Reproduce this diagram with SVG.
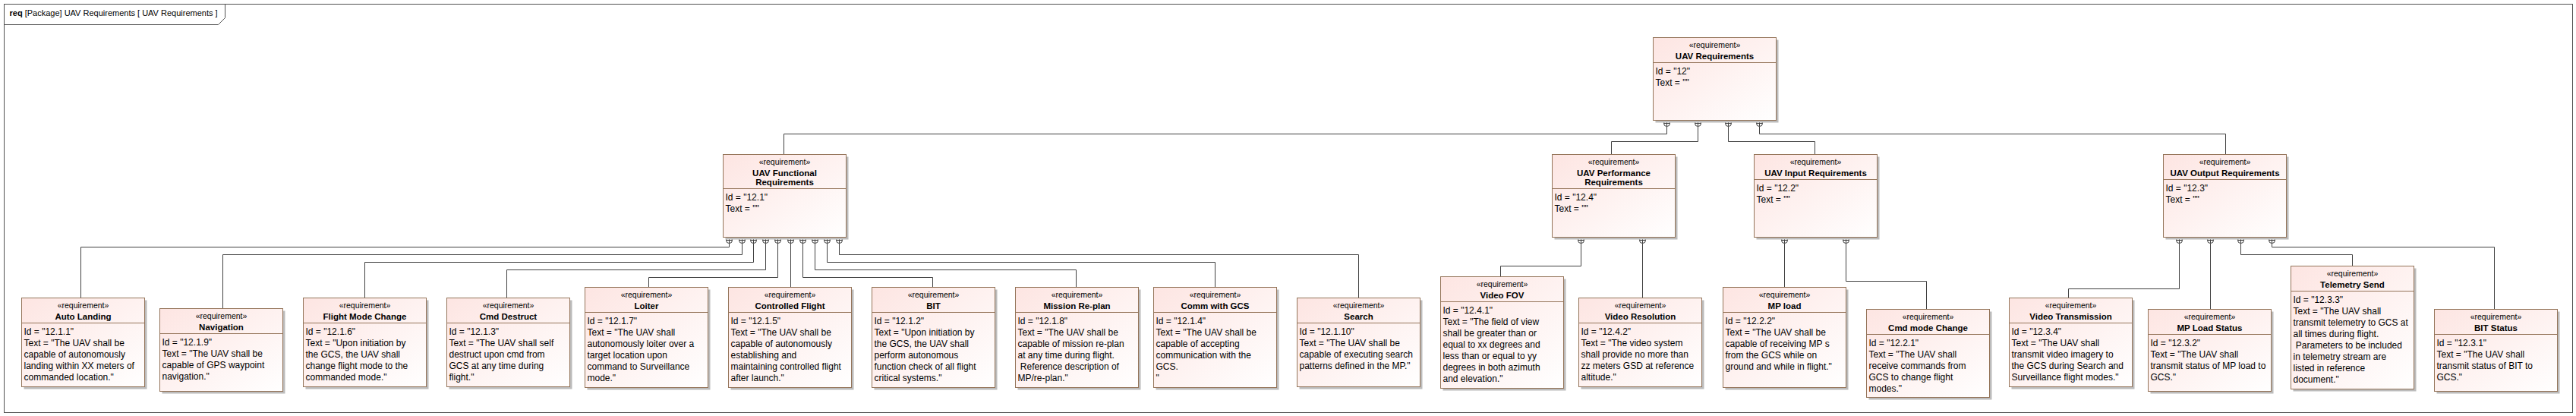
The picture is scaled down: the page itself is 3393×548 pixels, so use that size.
<svg xmlns="http://www.w3.org/2000/svg" width="3393" height="548" viewBox="0 0 3393 548">
<defs>
<linearGradient id="g" x1="0" y1="0" x2="1" y2="1">
<stop offset="0" stop-color="#fde5e2"/>
<stop offset="1" stop-color="#ffffff"/>
</linearGradient>
<g id="cc"><circle cx="0" cy="0" r="4" fill="#fff" stroke="#404040" stroke-width="1"/><path d="M-4,0H4M0,-4V4" stroke="#404040" stroke-width="1"/></g>
</defs>
<style>
.box{fill:url(#g);stroke:#947459;stroke-width:1}
.sh{fill:#bcbcbc}
.dv{stroke:#947459;stroke-width:1}
.st{font-family:"Liberation Sans",Arial,sans-serif;font-size:10.5px;text-anchor:middle;fill:#000}
.nm{font-family:"Liberation Sans",Arial,sans-serif;font-size:11.5px;font-weight:bold;text-anchor:middle;fill:#000}
.at{font-family:"Liberation Sans",Arial,sans-serif;font-size:12px;fill:#000}
.cn path{fill:none;stroke:#404040;stroke-width:1}
.fr{fill:none;stroke:#505050;stroke-width:1}
.tt{font-family:"Liberation Sans",Arial,sans-serif;font-size:11px;fill:#000}
</style>
<rect width="3393" height="548" fill="#fff"/>
<g transform="translate(0.5 0.5)">
<g id="frame">
<rect class="fr" x="5" y="5" width="3383" height="538"/>
<path class="fr" d="M5,32H287L296,23V5"/>
<text class="tt" x="12" y="20"><tspan font-weight="bold">req</tspan> [Package] UAV Requirements [ UAV Requirements ]</text>
</g>

<g id="connectors" class="cn">
<path d="M2195,166V176H1032V203"/>
<path d="M2236,166V186H2122V203"/>
<path d="M2276,166V186H2390V203"/>
<path d="M2317,166V176H2931V203"/>
<path d="M960,320V325H106V392"/>
<path d="M977,320V335H293V406"/>
<path d="M992,320V345H480V392"/>
<path d="M1008,320V355H667V392"/>
<path d="M1024,320V365H854V378"/>
<path d="M1041,320V378"/>
<path d="M1057,320V365H1228V378"/>
<path d="M1073,320V355H1417V378"/>
<path d="M1089,320V345H1600V378"/>
<path d="M1105,320V335H1789V392"/>
<path d="M2082,320V350H1976V364"/>
<path d="M2163,320V392"/>
<path d="M2350,320V378"/>
<path d="M2431,320V370H2537V407"/>
<path d="M2870,320V380H2724V392"/>
<path d="M2911,320V407"/>
<path d="M2951,320V335H3098V350"/>
<path d="M2992,320V325H3285V407"/>
<use href="#cc" x="2195" y="162"/><use href="#cc" x="2236" y="162"/><use href="#cc" x="2276" y="162"/><use href="#cc" x="2317" y="162"/>
<use href="#cc" x="960" y="316"/><use href="#cc" x="977" y="316"/><use href="#cc" x="992" y="316"/><use href="#cc" x="1008" y="316"/><use href="#cc" x="1024" y="316"/><use href="#cc" x="1041" y="316"/><use href="#cc" x="1057" y="316"/><use href="#cc" x="1073" y="316"/><use href="#cc" x="1089" y="316"/><use href="#cc" x="1105" y="316"/>
<use href="#cc" x="2082" y="316"/><use href="#cc" x="2163" y="316"/>
<use href="#cc" x="2350" y="316"/><use href="#cc" x="2431" y="316"/>
<use href="#cc" x="2870" y="316"/><use href="#cc" x="2911" y="316"/><use href="#cc" x="2951" y="316"/><use href="#cc" x="2992" y="316"/>
</g>

<g id="uav-requirements">
<rect class="sh" x="2180" y="52" width="162" height="109"/>
<rect class="box" x="2177" y="49" width="162" height="109"/>
<line class="dv" x1="2177" y1="82" x2="2339" y2="82"/>
<text class="st" x="2258" y="62">«requirement»</text>
<text class="nm" x="2258" y="77">UAV Requirements</text>
<text class="at"><tspan x="2180" y="97">Id = "12"</tspan><tspan x="2180" y="112">Text = ""</tspan></text>
</g>

<g id="uav-functional">
<rect class="sh" x="955" y="206" width="162" height="109"/>
<rect class="box" x="952" y="203" width="162" height="109"/>
<line class="dv" x1="952" y1="248" x2="1114" y2="248"/>
<text class="st" x="1033" y="216.5">«requirement»</text>
<text class="nm" x="1033" y="231">UAV Functional</text>
<text class="nm" x="1033" y="243.5">Requirements</text>
<text class="at"><tspan x="955" y="263">Id = "12.1"</tspan><tspan x="955" y="278">Text = ""</tspan></text>
</g>

<g id="uav-performance">
<rect class="sh" x="2047" y="206" width="162" height="109"/>
<rect class="box" x="2044" y="203" width="162" height="109"/>
<line class="dv" x1="2044" y1="248" x2="2206" y2="248"/>
<text class="st" x="2125" y="216.5">«requirement»</text>
<text class="nm" x="2125" y="231">UAV Performance</text>
<text class="nm" x="2125" y="243.5">Requirements</text>
<text class="at"><tspan x="2047" y="263">Id = "12.4"</tspan><tspan x="2047" y="278">Text = ""</tspan></text>
</g>

<g id="uav-input">
<rect class="sh" x="2313" y="206" width="162" height="109"/>
<rect class="box" x="2310" y="203" width="162" height="109"/>
<line class="dv" x1="2310" y1="236" x2="2472" y2="236"/>
<text class="st" x="2391" y="216">«requirement»</text>
<text class="nm" x="2391" y="231">UAV Input Requirements</text>
<text class="at"><tspan x="2313" y="251">Id = "12.2"</tspan><tspan x="2313" y="266">Text = ""</tspan></text>
</g>

<g id="uav-output">
<rect class="sh" x="2852" y="206" width="162" height="109"/>
<rect class="box" x="2849" y="203" width="162" height="109"/>
<line class="dv" x1="2849" y1="236" x2="3011" y2="236"/>
<text class="st" x="2930" y="216">«requirement»</text>
<text class="nm" x="2930" y="231">UAV Output Requirements</text>
<text class="at"><tspan x="2852" y="251">Id = "12.3"</tspan><tspan x="2852" y="266">Text = ""</tspan></text>
</g>

<g id="auto-landing">
<rect class="sh" x="31" y="395" width="162" height="117"/>
<rect class="box" x="28" y="392" width="162" height="117"/>
<line class="dv" x1="28" y1="425" x2="190" y2="425"/>
<text class="st" x="109" y="405">«requirement»</text>
<text class="nm" x="109" y="420">Auto Landing</text>
<text class="at"><tspan x="31" y="440">Id = "12.1.1"</tspan><tspan x="31" y="455">Text = "The UAV shall be</tspan><tspan x="31" y="470">capable of autonomously</tspan><tspan x="31" y="485">landing within XX meters of</tspan><tspan x="31" y="500">commanded location."</tspan></text>
</g>

<g id="navigation">
<rect class="sh" x="213" y="409" width="162" height="109"/>
<rect class="box" x="210" y="406" width="162" height="109"/>
<line class="dv" x1="210" y1="439" x2="372" y2="439"/>
<text class="st" x="291" y="419">«requirement»</text>
<text class="nm" x="291" y="434">Navigation</text>
<text class="at"><tspan x="213" y="454">Id = "12.1.9"</tspan><tspan x="213" y="469">Text = "The UAV shall be</tspan><tspan x="213" y="484">capable of GPS waypoint</tspan><tspan x="213" y="499">navigation."</tspan></text>
</g>

<g id="flight-mode-change">
<rect class="sh" x="402" y="395" width="162" height="117"/>
<rect class="box" x="399" y="392" width="162" height="117"/>
<line class="dv" x1="399" y1="425" x2="561" y2="425"/>
<text class="st" x="480" y="405">«requirement»</text>
<text class="nm" x="480" y="420">Flight Mode Change</text>
<text class="at"><tspan x="402" y="440">Id = "12.1.6"</tspan><tspan x="402" y="455">Text = "Upon initiation by</tspan><tspan x="402" y="470">the GCS, the UAV shall</tspan><tspan x="402" y="485">change flight mode to the</tspan><tspan x="402" y="500">commanded mode."</tspan></text>
</g>

<g id="cmd-destruct">
<rect class="sh" x="591" y="395" width="162" height="117"/>
<rect class="box" x="588" y="392" width="162" height="117"/>
<line class="dv" x1="588" y1="425" x2="750" y2="425"/>
<text class="st" x="669" y="405">«requirement»</text>
<text class="nm" x="669" y="420">Cmd Destruct</text>
<text class="at"><tspan x="591" y="440">Id = "12.1.3"</tspan><tspan x="591" y="455">Text = "The UAV shall self</tspan><tspan x="591" y="470">destruct upon cmd from</tspan><tspan x="591" y="485">GCS at any time during</tspan><tspan x="591" y="500">flight."</tspan></text>
</g>

<g id="loiter">
<rect class="sh" x="773" y="381" width="162" height="132"/>
<rect class="box" x="770" y="378" width="162" height="132"/>
<line class="dv" x1="770" y1="411" x2="932" y2="411"/>
<text class="st" x="851" y="391">«requirement»</text>
<text class="nm" x="851" y="406">Loiter</text>
<text class="at"><tspan x="773" y="426">Id = "12.1.7"</tspan><tspan x="773" y="441">Text = "The UAV shall</tspan><tspan x="773" y="456">autonomously loiter over a</tspan><tspan x="773" y="471">target location upon</tspan><tspan x="773" y="486">command to Surveillance</tspan><tspan x="773" y="501">mode."</tspan></text>
</g>

<g id="controlled-flight">
<rect class="sh" x="962" y="381" width="162" height="132"/>
<rect class="box" x="959" y="378" width="162" height="132"/>
<line class="dv" x1="959" y1="411" x2="1121" y2="411"/>
<text class="st" x="1040" y="391">«requirement»</text>
<text class="nm" x="1040" y="406">Controlled Flight</text>
<text class="at"><tspan x="962" y="426">Id = "12.1.5"</tspan><tspan x="962" y="441">Text = "The UAV shall be</tspan><tspan x="962" y="456">capable of autonomously</tspan><tspan x="962" y="471">establishing and</tspan><tspan x="962" y="486">maintaining controlled flight</tspan><tspan x="962" y="501">after launch."</tspan></text>
</g>

<g id="bit">
<rect class="sh" x="1151" y="381" width="162" height="132"/>
<rect class="box" x="1148" y="378" width="162" height="132"/>
<line class="dv" x1="1148" y1="411" x2="1310" y2="411"/>
<text class="st" x="1229" y="391">«requirement»</text>
<text class="nm" x="1229" y="406">BIT</text>
<text class="at"><tspan x="1151" y="426">Id = "12.1.2"</tspan><tspan x="1151" y="441">Text = "Upon initiation by</tspan><tspan x="1151" y="456">the GCS, the UAV shall</tspan><tspan x="1151" y="471">perform autonomous</tspan><tspan x="1151" y="486">function check of all flight</tspan><tspan x="1151" y="501">critical systems."</tspan></text>
</g>

<g id="mission-replan">
<rect class="sh" x="1340" y="381" width="162" height="132"/>
<rect class="box" x="1337" y="378" width="162" height="132"/>
<line class="dv" x1="1337" y1="411" x2="1499" y2="411"/>
<text class="st" x="1418" y="391">«requirement»</text>
<text class="nm" x="1418" y="406">Mission Re-plan</text>
<text class="at"><tspan x="1340" y="426">Id = "12.1.8"</tspan><tspan x="1340" y="441">Text = "The UAV shall be</tspan><tspan x="1340" y="456">capable of mission re-plan</tspan><tspan x="1340" y="471">at any time during flight.</tspan><tspan x="1340" y="486">&#160;Reference description of</tspan><tspan x="1340" y="501">MP/re-plan."</tspan></text>
</g>

<g id="comm-with-gcs">
<rect class="sh" x="1522" y="381" width="162" height="132"/>
<rect class="box" x="1519" y="378" width="162" height="132"/>
<line class="dv" x1="1519" y1="411" x2="1681" y2="411"/>
<text class="st" x="1600" y="391">«requirement»</text>
<text class="nm" x="1600" y="406">Comm with GCS</text>
<text class="at"><tspan x="1522" y="426">Id = "12.1.4"</tspan><tspan x="1522" y="441">Text = "The UAV shall be</tspan><tspan x="1522" y="456">capable of accepting</tspan><tspan x="1522" y="471">communication with the</tspan><tspan x="1522" y="486">GCS.</tspan><tspan x="1522" y="501">"</tspan></text>
</g>

<g id="search">
<rect class="sh" x="1711" y="395" width="162" height="117"/>
<rect class="box" x="1708" y="392" width="162" height="117"/>
<line class="dv" x1="1708" y1="425" x2="1870" y2="425"/>
<text class="st" x="1789" y="405">«requirement»</text>
<text class="nm" x="1789" y="420">Search</text>
<text class="at"><tspan x="1711" y="440">Id = "12.1.10"</tspan><tspan x="1711" y="455">Text = "The UAV shall be</tspan><tspan x="1711" y="470">capable of executing search</tspan><tspan x="1711" y="485">patterns defined in the MP."</tspan></text>
</g>

<g id="video-fov">
<rect class="sh" x="1900" y="367" width="162" height="147"/>
<rect class="box" x="1897" y="364" width="162" height="147"/>
<line class="dv" x1="1897" y1="397" x2="2059" y2="397"/>
<text class="st" x="1978" y="377">«requirement»</text>
<text class="nm" x="1978" y="392">Video FOV</text>
<text class="at"><tspan x="1900" y="412">Id = "12.4.1"</tspan><tspan x="1900" y="427">Text = "The field of view</tspan><tspan x="1900" y="442">shall be greater than or</tspan><tspan x="1900" y="457">equal to xx degrees and</tspan><tspan x="1900" y="472">less than or equal to yy</tspan><tspan x="1900" y="487">degrees in both azimuth</tspan><tspan x="1900" y="502">and elevation."</tspan></text>
</g>

<g id="video-resolution">
<rect class="sh" x="2082" y="395" width="162" height="117"/>
<rect class="box" x="2079" y="392" width="162" height="117"/>
<line class="dv" x1="2079" y1="425" x2="2241" y2="425"/>
<text class="st" x="2160" y="405">«requirement»</text>
<text class="nm" x="2160" y="420">Video Resolution</text>
<text class="at"><tspan x="2082" y="440">Id = "12.4.2"</tspan><tspan x="2082" y="455">Text = "The video system</tspan><tspan x="2082" y="470">shall provide no more than</tspan><tspan x="2082" y="485">zz meters GSD at reference</tspan><tspan x="2082" y="500">altitude."</tspan></text>
</g>

<g id="mp-load">
<rect class="sh" x="2272" y="381" width="162" height="132"/>
<rect class="box" x="2269" y="378" width="162" height="132"/>
<line class="dv" x1="2269" y1="411" x2="2431" y2="411"/>
<text class="st" x="2350" y="391">«requirement»</text>
<text class="nm" x="2350" y="406">MP load</text>
<text class="at"><tspan x="2272" y="426">Id = "12.2.2"</tspan><tspan x="2272" y="441">Text = "The UAV shall be</tspan><tspan x="2272" y="456">capable of receiving MP s</tspan><tspan x="2272" y="471">from the GCS while on</tspan><tspan x="2272" y="486">ground and while in flight."</tspan></text>
</g>

<g id="cmd-mode-change">
<rect class="sh" x="2461" y="410" width="162" height="116"/>
<rect class="box" x="2458" y="407" width="162" height="116"/>
<line class="dv" x1="2458" y1="440" x2="2620" y2="440"/>
<text class="st" x="2539" y="420">«requirement»</text>
<text class="nm" x="2539" y="435">Cmd mode Change</text>
<text class="at"><tspan x="2461" y="455">Id = "12.2.1"</tspan><tspan x="2461" y="470">Text = "The UAV shall</tspan><tspan x="2461" y="485">receive commands from</tspan><tspan x="2461" y="500">GCS to change flight</tspan><tspan x="2461" y="515">modes."</tspan></text>
</g>

<g id="video-transmission">
<rect class="sh" x="2649" y="395" width="162" height="117"/>
<rect class="box" x="2646" y="392" width="162" height="117"/>
<line class="dv" x1="2646" y1="425" x2="2808" y2="425"/>
<text class="st" x="2727" y="405">«requirement»</text>
<text class="nm" x="2727" y="420">Video Transmission</text>
<text class="at"><tspan x="2649" y="440">Id = "12.3.4"</tspan><tspan x="2649" y="455">Text = "The UAV shall</tspan><tspan x="2649" y="470">transmit video imagery to</tspan><tspan x="2649" y="485">the GCS during Search and</tspan><tspan x="2649" y="500">Surveillance flight modes."</tspan></text>
</g>

<g id="mp-load-status">
<rect class="sh" x="2832" y="410" width="162" height="108"/>
<rect class="box" x="2829" y="407" width="162" height="108"/>
<line class="dv" x1="2829" y1="440" x2="2991" y2="440"/>
<text class="st" x="2910" y="420">«requirement»</text>
<text class="nm" x="2910" y="435">MP Load Status</text>
<text class="at"><tspan x="2832" y="455">Id = "12.3.2"</tspan><tspan x="2832" y="470">Text = "The UAV shall</tspan><tspan x="2832" y="485">transmit status of MP load to</tspan><tspan x="2832" y="500">GCS."</tspan></text>
</g>

<g id="telemetry-send">
<rect class="sh" x="3020" y="353" width="162" height="162"/>
<rect class="box" x="3017" y="350" width="162" height="162"/>
<line class="dv" x1="3017" y1="383" x2="3179" y2="383"/>
<text class="st" x="3098" y="363">«requirement»</text>
<text class="nm" x="3098" y="378">Telemetry Send</text>
<text class="at"><tspan x="3020" y="398">Id = "12.3.3"</tspan><tspan x="3020" y="413">Text = "The UAV shall</tspan><tspan x="3020" y="428">transmit telemetry to GCS at</tspan><tspan x="3020" y="443">all times during flight.</tspan><tspan x="3020" y="458">&#160;Parameters to be included</tspan><tspan x="3020" y="473">in telemetry stream are</tspan><tspan x="3020" y="488">listed in reference</tspan><tspan x="3020" y="503">document."</tspan></text>
</g>

<g id="bit-status">
<rect class="sh" x="3209" y="410" width="162" height="108"/>
<rect class="box" x="3206" y="407" width="162" height="108"/>
<line class="dv" x1="3206" y1="440" x2="3368" y2="440"/>
<text class="st" x="3287" y="420">«requirement»</text>
<text class="nm" x="3287" y="435">BIT Status</text>
<text class="at"><tspan x="3209" y="455">Id = "12.3.1"</tspan><tspan x="3209" y="470">Text = "The UAV shall</tspan><tspan x="3209" y="485">transmit status of BIT to</tspan><tspan x="3209" y="500">GCS."</tspan></text>
</g>
</g>
</svg>
